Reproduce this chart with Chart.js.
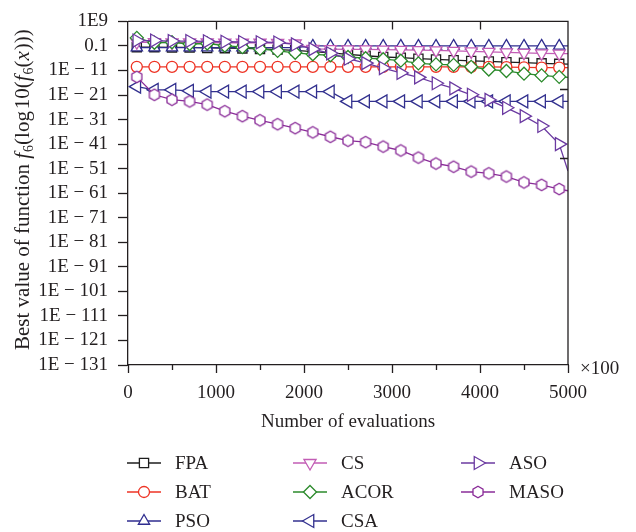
<!DOCTYPE html>
<html>
<head>
<meta charset="utf-8">
<script src="https://cdn.jsdelivr.net/npm/chart.js@4.4.1/dist/chart.umd.min.js"></script>
<style>
  html, body { margin: 0; padding: 0; background: #fff; }
  #contenedor { width: 636px; height: 532px; position: relative; }
</style>
</head>
<body>
<div id="contenedor"><canvas id="grafica-f6"></canvas></div>
<script>
// evaluaciones (x100) donde se registra el mejor valor
var evaluaciones = [100, 300, 500, 700, 900, 1100, 1300, 1500, 1700, 1900, 2100, 2300, 2500,
                    2700, 2900, 3100, 3300, 3500, 3700, 3900, 4100, 4300, 4500, 4700, 4900, 5000];

// log10 del mejor valor de f6 por algoritmo
var fpa  = [-1.5, -1.5, -1.6, -1.6, -1.8, -1.9, -2.0, -2.2, -2.5, -2.8, -3.3, -3.8, -4.4,
            -5.0, -5.5, -5.8, -6.2, -6.5, -6.8, -7.1, -7.3, -7.6, -7.8, -8.1, -8.3, -8.4];
var bat  = [-9.5, -9.5, -9.5, -9.5, -9.5, -9.5, -9.5, -9.5, -9.5, -9.5, -9.5, -9.5, -9.5,
            -9.5, -9.5, -9.5, -9.5, -9.5, -9.5, -9.5, -9.5, -9.6, -9.7, -9.8, -9.8, -9.8];
var pso  = [-1.7, -1.7, -1.7, -1.7, -1.7, -1.7, -1.7, -1.7, -1.7, -1.7, -1.0, -1.0, -1.0,
            -1.0, -1.0, -1.0, -1.0, -1.0, -1.0, -1.0, -1.0, -1.0, -1.0, -1.0, -1.0, -1.0];
var cs   = [0.5, 0.5, 0.4, 0.4, 0.4, 0.3, 0.3, 0.3, 0.2, 0.0, -2.2, -2.3, -2.4,
            -2.4, -2.5, -2.6, -2.7, -2.8, -3.0, -3.2, -3.4, -3.6, -3.8, -4.0, -4.1, -4.1];
var acor = [2.3, 0.3, 0.5, -0.2, 0.0, -0.9, -1.5, -2.2, -3.0, -3.8, -4.4, -4.8, -5.5,
            -6.0, -6.4, -7.0, -8.1, -8.5, -8.7, -9.5, -10.6, -11.2, -12.3, -13.0, -13.6, -13.8];
var csa  = [-17.6, -18.9, -18.9, -19.3, -19.6, -19.6, -19.6, -19.6, -19.6, -19.6, -19.6, -19.6, -23.6,
            -23.6, -23.6, -23.6, -23.6, -23.6, -23.6, -23.6, -23.6, -23.6, -23.6, -23.6, -23.6, -23.6];
var aso  = [1.2, 1.2, 1.0, 1.0, 0.9, 0.7, 0.6, 0.5, 0.4, -0.4, -2.3, -4.0, -6.2,
            -8.0, -10.0, -12.0, -13.8, -16.2, -18.3, -20.9, -23.0, -26.2, -29.6, -33.6, -41.0, -52.0];
var maso = [-13.6, -20.9, -22.9, -23.6, -24.9, -27.6, -29.6, -31.3, -32.9, -34.5, -36.2, -38.0, -39.6,
            -40.2, -42.0, -43.6, -46.5, -48.9, -50.2, -52.2, -52.9, -54.2, -56.6, -57.6, -59.3, -60.0];

// ejes
var yTicks  = [-131, -121, -111, -101, -91, -81, -71, -61, -51, -41, -31, -21, -11, -1, 9];
var yLabels = ['1E \u2212 131', '1E \u2212 121', '1E \u2212 111', '1E \u2212 101', '1E \u2212 91',
               '1E \u2212 81', '1E \u2212 71', '1E \u2212 61', '1E \u2212 51', '1E \u2212 41',
               '1E \u2212 31', '1E \u2212 21', '1E \u2212 11', '0.1', '1E9'];
var yDerecha = [-18.5, -46.5];
var xTicks  = [0, 1000, 2000, 3000, 4000, 5000];
var xMenores = [500, 1500, 2500, 3500, 4500];

var FUENTE = "'Liberation Serif', 'DejaVu Serif', serif";
var TINTA = '#231f20';

function hexagono(color, r) {
    var s = Math.ceil(r * 2 + 4);
    var c = document.createElement('canvas');
    c.width = s; c.height = s;
    var g = c.getContext('2d');
    g.strokeStyle = color;
    g.fillStyle = '#fff';
    g.lineWidth = 1.3;
    g.beginPath();
    for (var i = 0; i < 6; i++) {
        var a = Math.PI / 3 * i - Math.PI / 2;
        var px = s / 2 + r * Math.cos(a), py = s / 2 + r * Math.sin(a);
        if (i === 0) g.moveTo(px, py); else g.lineTo(px, py);
    }
    g.closePath();
    g.fill();
    g.stroke();
    return c;
}

var series = [
    {label: 'FPA',  data: fpa,  color: '#1e1e1e', estilo: 'rect',     rot: 0,   r: 6.5},
    {label: 'BAT',  data: bat,  color: '#ee3324', estilo: 'circle',   rot: 0,   r: 5.5},
    {label: 'PSO',  data: pso,  color: '#2f2d8f', estilo: 'triangle', rot: 0,   r: 6.5},
    {label: 'CS',   data: cs,   color: '#c25db5', estilo: 'triangle', rot: 180, r: 7},
    {label: 'ACOR', data: acor, color: '#2b8a2b', estilo: 'rectRot',  rot: 0,   r: 6.5},
    {label: 'CSA',  data: csa,  color: '#33318f', estilo: 'triangle', rot: -90, r: 7.5},
    {label: 'ASO',  data: aso,  color: '#6b3aa1', estilo: 'triangle', rot: 90,  r: 7.5},
    {label: 'MASO', data: maso, color: '#8a2c98', estilo: null,       rot: 0,   r: 5.8}
];
series[7].estilo = hexagono(series[7].color, series[7].r);

var ultimo = evaluaciones.length - 1;

var datasets = series.map(function (s, i) {
    return {
        label: s.label,
        data: evaluaciones.map(function (e, k) { return {x: e, y: s.data[k]}; }),
        borderColor: s.color,
        borderWidth: 1.3,
        backgroundColor: '#fff',
        pointStyle: s.estilo,
        rotation: s.rot,
        pointRadius: function (ctx) { return ctx.dataIndex === ultimo ? 0 : s.r; },
        pointBorderColor: s.color,
        pointBackgroundColor: '#fff',
        pointBorderWidth: 1.3,
        tension: 0,
        fill: false,
        order: series.length - i
    };
});

function marca(ctx, s, x, y) {
    if (s.estilo instanceof HTMLCanvasElement) {
        ctx.drawImage(s.estilo, x - s.estilo.width / 2, y - s.estilo.height / 2);
        return;
    }
    var r = s.r;
    ctx.save();
    ctx.strokeStyle = s.color;
    ctx.fillStyle = '#fff';
    ctx.lineWidth = 1.3;
    ctx.beginPath();
    if (s.estilo === 'circle') {
        ctx.arc(x, y, r, 0, Math.PI * 2);
    } else if (s.estilo === 'rect') {
        var m = r * Math.SQRT1_2;
        ctx.rect(x - m, y - m, 2 * m, 2 * m);
    } else if (s.estilo === 'rectRot') {
        ctx.moveTo(x - r, y); ctx.lineTo(x, y - r); ctx.lineTo(x + r, y); ctx.lineTo(x, y + r);
        ctx.closePath();
    } else {
        var a = s.rot * Math.PI / 180;
        for (var k = 0; k < 3; k++) {
            var px = x + Math.sin(a) * r, py = y - Math.cos(a) * r;
            if (k === 0) ctx.moveTo(px, py); else ctx.lineTo(px, py);
            a += Math.PI * 2 / 3;
        }
        ctx.closePath();
    }
    ctx.fill();
    ctx.stroke();
    ctx.restore();
}

// marco, marcas menores, títulos y leyenda en columnas
var decorado = {
    id: 'decorado',
    afterDraw: function (chart) {
        var ctx = chart.ctx, a = chart.chartArea;
        var ex = chart.scales.x, ey = chart.scales.y;
        ctx.save();
        ctx.strokeStyle = TINTA;
        ctx.lineWidth = 1.3;
        ctx.beginPath();
        ctx.moveTo(a.left, a.top); ctx.lineTo(a.right, a.top); ctx.lineTo(a.right, a.bottom);
        xTicks.forEach(function (v) {
            var px = Math.round(ex.getPixelForValue(v)) + 0.5;
            ctx.moveTo(px, a.bottom); ctx.lineTo(px, a.bottom + 8);
            if (v > 0 && v < 5000) { ctx.moveTo(px, a.top); ctx.lineTo(px, a.top + 8); }
        });
        xMenores.forEach(function (v) {
            var px = Math.round(ex.getPixelForValue(v)) + 0.5;
            ctx.moveTo(px, a.bottom); ctx.lineTo(px, a.bottom + 5);
        });
        yDerecha.forEach(function (v) {
            var py = Math.round(ey.getPixelForValue(v)) + 0.5;
            ctx.moveTo(a.right, py); ctx.lineTo(a.right - 8, py);
        });
        ctx.stroke();

        ctx.fillStyle = TINTA;
        ctx.font = '19px ' + FUENTE;
        ctx.textBaseline = 'middle';
        ctx.textAlign = 'left';
        ctx.fillText('\u00d7100', a.right + 12, a.bottom + 4);
        ctx.textAlign = 'center';
        ctx.fillText('Number of evaluations', (a.left + a.right) / 2, 422);

        // título del eje y: texto con f en cursiva y subíndice
        var partes = [
            {t: 'Best value of function ', f: ''},
            {t: 'f', f: 'italic '}, {t: '6', sub: true},
            {t: '(log\u200a10(', f: ''},
            {t: 'f', f: 'italic '}, {t: '6', sub: true},
            {t: '(', f: ''}, {t: 'x', f: 'italic '}, {t: ')))', f: ''}
        ];
        ctx.translate(29, 350);
        ctx.rotate(-Math.PI / 2);
        ctx.textAlign = 'left';
        ctx.textBaseline = 'alphabetic';
        var cx = 0;
        partes.forEach(function (p) {
            ctx.font = p.sub ? '14px ' + FUENTE : (p.f || '') + '21px ' + FUENTE;
            ctx.fillText(p.t, cx, p.sub ? 4 : 0);
            cx += ctx.measureText(p.t).width + (p.f === 'italic ' ? 1 : 0);
        });
        ctx.restore();

        // leyenda
        var columnas = [127, 293, 461];
        var filas = [463, 492, 521];
        ctx.save();
        ctx.font = '19px ' + FUENTE;
        ctx.textBaseline = 'middle';
        ctx.textAlign = 'left';
        series.forEach(function (s, i) {
            var x0 = columnas[Math.floor(i / 3)], y0 = filas[i % 3];
            ctx.strokeStyle = s.color;
            ctx.lineWidth = 1.3;
            ctx.beginPath();
            ctx.moveTo(x0, y0); ctx.lineTo(x0 + 34, y0);
            ctx.stroke();
            marca(ctx, s, x0 + 17, y0);
            ctx.fillStyle = TINTA;
            ctx.fillText(s.label, x0 + 48, y0 + 1);
        });
        ctx.restore();
    }
};

var ctx = document.getElementById('grafica-f6').getContext('2d');
new Chart(ctx, {
    type: 'line',
    data: {datasets: datasets},
    options: {
        responsive: true,
        maintainAspectRatio: false,
        animation: false,
        events: [],
        layout: {padding: {top: 15, right: 68, bottom: 0, left: 0}},
        plugins: {legend: {display: false}, tooltip: {enabled: false}},
        scales: {
            x: {
                type: 'linear',
                min: 0,
                max: 5000,
                afterBuildTicks: function (scale) {
                    scale.ticks = xTicks.map(function (v) { return {value: v}; });
                },
                afterFit: function (scale) { scale.height = 167; },
                grid: {display: false, drawTicks: false},
                border: {display: true, color: TINTA, width: 1.3},
                ticks: {
                    autoSkip: false,
                    maxRotation: 0,
                    padding: 17,
                    color: TINTA,
                    font: {family: FUENTE, size: 19},
                    callback: function (v) { return String(v); }
                }
            },
            y: {
                type: 'linear',
                min: -131,
                max: 9,
                afterBuildTicks: function (scale) {
                    scale.ticks = yTicks.map(function (v) { return {value: v}; });
                },
                afterFit: function (scale) { scale.width = 128; },
                grid: {drawOnChartArea: false, drawTicks: true, tickLength: 10, tickColor: TINTA, tickWidth: 1.3},
                border: {display: true, color: TINTA, width: 1.3},
                ticks: {
                    autoSkip: false,
                    padding: 10,
                    color: TINTA,
                    font: {family: FUENTE, size: 19},
                    callback: function (v) { return yLabels[yTicks.indexOf(v)]; }
                }
            }
        }
    },
    plugins: [decorado]
});
</script>
</body>
</html>
